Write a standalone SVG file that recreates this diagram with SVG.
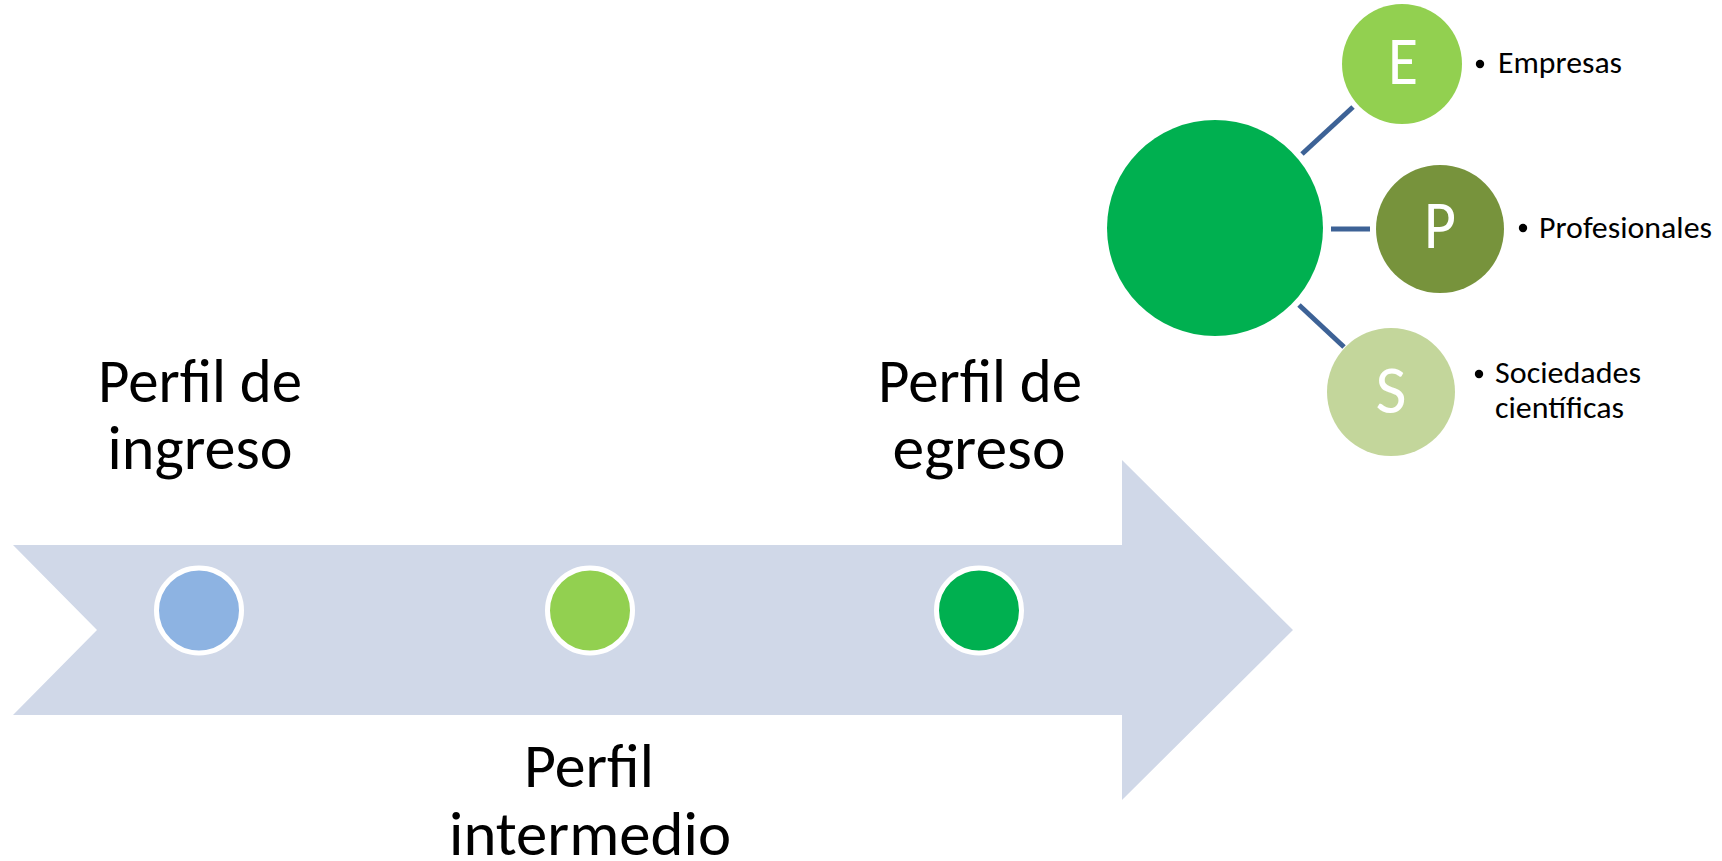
<svg xmlns="http://www.w3.org/2000/svg" width="1722" height="861" viewBox="0 0 1722 861">
  <style>
    .big { font-family: Carlito, Calibri, Lato, "Open Sans", sans-serif; font-size: 61px; fill: #000; text-anchor: middle; }
    .lbl { font-family: Carlito, Calibri, Lato, "Open Sans", sans-serif; font-size: 31.5px; fill: #000; }
    .ltr { font-family: Carlito, Calibri, Lato, "Open Sans", sans-serif; font-size: 68px; fill: #fff; text-anchor: middle; }
    .dot { stroke: #fff; stroke-width: 5; }
    .conn { stroke: #3D6296; stroke-width: 5; fill: none; }
  </style>
  <rect width="1722" height="861" fill="#fff"/>

  <g id="timeline-arrow">
    <polygon points="13,545 1122,545 1122,460 1293,630 1122,800 1122,715 13,715 97,630" fill="#D0D8E8"/>
  </g>

  <g id="node-ingreso">
    <circle class="dot" cx="199" cy="610.5" r="42.5" fill="#8DB3E2"/>
    <text class="big" x="200" y="402" textLength="204" lengthAdjust="spacingAndGlyphs">Perfil de</text>
    <text class="big" x="200" y="469" textLength="185" lengthAdjust="spacingAndGlyphs">ingreso</text>
  </g>

  <g id="node-intermedio">
    <circle class="dot" cx="590" cy="610.5" r="42.5" fill="#92D050"/>
    <text class="big" x="589" y="787" textLength="130" lengthAdjust="spacingAndGlyphs">Perfil</text>
    <text class="big" x="590" y="855" textLength="282" lengthAdjust="spacingAndGlyphs">intermedio</text>
  </g>

  <g id="node-egreso">
    <circle class="dot" cx="979" cy="610.5" r="42.5" fill="#00B050"/>
    <text class="big" x="980" y="402" textLength="204" lengthAdjust="spacingAndGlyphs">Perfil de</text>
    <text class="big" x="979" y="469" textLength="173" lengthAdjust="spacingAndGlyphs">egreso</text>
  </g>

  <g id="connectors">
    <line class="conn" x1="1302" y1="154" x2="1353" y2="107"/>
    <line class="conn" x1="1331" y1="229" x2="1370" y2="229"/>
    <line class="conn" x1="1299" y1="305" x2="1344" y2="347"/>
  </g>

  <g id="node-hub">
    <circle cx="1215" cy="228" r="108" fill="#00B050"/>
  </g>

  <g id="node-E">
    <circle cx="1402" cy="64" r="60" fill="#92D050"/>
    <text class="ltr" x="1403" y="84" textLength="30" lengthAdjust="spacingAndGlyphs">E</text>
    <circle cx="1480" cy="64" r="4.2" fill="#000"/>
    <text class="lbl" x="1498" y="73" textLength="124" lengthAdjust="spacingAndGlyphs">Empresas</text>
  </g>

  <g id="node-P">
    <circle cx="1440" cy="229" r="64" fill="#77933C"/>
    <text class="ltr" x="1440" y="248" textLength="32" lengthAdjust="spacingAndGlyphs">P</text>
    <circle cx="1523" cy="228" r="4.2" fill="#000"/>
    <text class="lbl" x="1539" y="238" textLength="173" lengthAdjust="spacingAndGlyphs">Profesionales</text>
  </g>

  <g id="node-S">
    <circle cx="1391" cy="392" r="64" fill="#C3D69B"/>
    <text class="ltr" x="1391" y="413" textLength="31" lengthAdjust="spacingAndGlyphs">S</text>
    <circle cx="1479" cy="374" r="4.2" fill="#000"/>
    <text class="lbl" x="1495" y="383" textLength="146" lengthAdjust="spacingAndGlyphs">Sociedades</text>
    <text class="lbl" x="1495" y="418" textLength="129" lengthAdjust="spacingAndGlyphs">científicas</text>
  </g>
</svg>
